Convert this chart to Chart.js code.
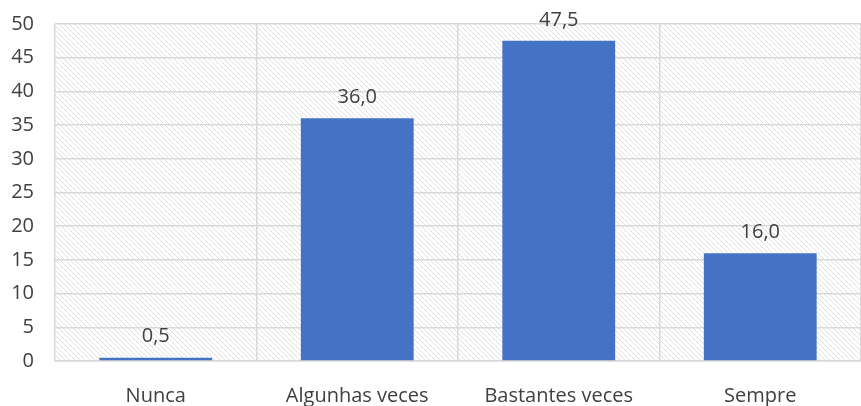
<!DOCTYPE html>
<html>
<head>
<meta charset="utf-8">
<script src="https://cdn.jsdelivr.net/npm/chart.js@4.4.0/dist/chart.umd.min.js"></script>
<style>
  html, body { margin: 0; padding: 0; background: #fff; }
</style>
</head>
<body>
<canvas id="myChart" width="861" height="406"></canvas>
<script>
const categories = ['Nunca', 'Algunhas veces', 'Bastantes veces', 'Sempre'];
const values = [0.5, 36.0, 47.5, 16.0];
const yTicks = [0, 5, 10, 15, 20, 25, 30, 35, 40, 45, 50];

const textColor = '#404040';
const fontFamily = "'Open Sans', 'Liberation Sans', sans-serif";

// diagonal hatch for the plot background
function makeHatch(ctx) {
    const c = document.createElement('canvas');
    c.width = 5; c.height = 5;
    const g = c.getContext('2d');
    g.fillStyle = '#fff';
    g.fillRect(0, 0, 5, 5);
    g.strokeStyle = '#e0e0e0';
    g.lineWidth = 1;
    g.beginPath();
    g.moveTo(-1, -1); g.lineTo(6, 6);
    g.moveTo(-1, 4); g.lineTo(1, 6);
    g.moveTo(4, -1); g.lineTo(6, 1);
    g.stroke();
    return ctx.createPattern(c, 'repeat');
}

const hatchBg = {
    id: 'hatchBg',
    beforeDraw(chart) {
        const { ctx, chartArea: a } = chart;
        ctx.save();
        ctx.fillStyle = makeHatch(ctx);
        ctx.fillRect(a.left, a.top, a.right - a.left, a.bottom - a.top);
        ctx.restore();
    }
};

const valueLabels = {
    id: 'valueLabels',
    afterDatasetsDraw(chart) {
        const { ctx } = chart;
        const meta = chart.getDatasetMeta(0);
        ctx.save();
        ctx.fillStyle = textColor;
        ctx.font = '20px ' + fontFamily;
        ctx.textAlign = 'center';
        ctx.textBaseline = 'middle';
        meta.data.forEach((bar, i) => {
            const txt = values[i].toFixed(1).replace('.', ',');
            ctx.fillText(txt, bar.x, bar.y - 21);
        });
        ctx.restore();
    }
};

const ctx = document.getElementById('myChart');
const myChart = new Chart(ctx, {
    type: 'bar',
    data: {
        labels: categories,
        datasets: [{
            data: values,
            backgroundColor: '#4472c4',
            borderWidth: 0,
            categoryPercentage: 1,
            barPercentage: 0.56
        }]
    },
    options: {
        responsive: false,
        animation: false,
        layout: { padding: { top: 24, right: 0, left: 0, bottom: 0 } },
        plugins: {
            legend: { display: false },
            tooltip: { enabled: false }
        },
        scales: {
            x: {
                afterFit(scale) { scale.height = 45; scale.paddingLeft = 0; scale.paddingRight = 0; },
                grid: { color: '#d9d9d9', lineWidth: 1.5, drawTicks: false },
                border: { color: '#d9d9d9', width: 1.5 },
                ticks: { color: textColor, font: { size: 20, family: fontFamily }, padding: 23 }
            },
            y: {
                min: 0,
                max: 50,
                afterBuildTicks(scale) { scale.ticks = yTicks.map(v => ({ value: v })); },
                afterFit(scale) { scale.width = 55; scale.paddingTop = 0; scale.paddingBottom = 0; },
                grid: { color: '#d9d9d9', lineWidth: 1.5, drawTicks: false },
                border: { display: false },
                ticks: { color: textColor, font: { size: 20, family: fontFamily }, padding: 21 }
            }
        }
    },
    plugins: [hatchBg, valueLabels]
});
</script>
</body>
</html>
